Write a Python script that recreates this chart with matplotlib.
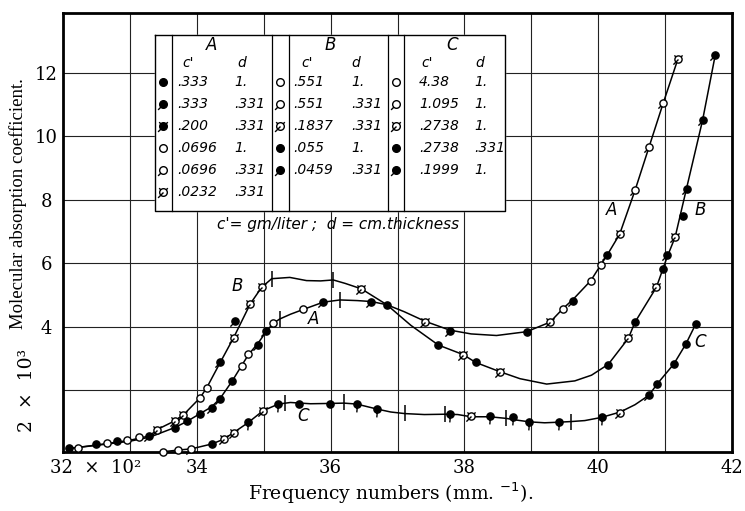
import numpy as np
import matplotlib.pyplot as plt
from matplotlib.path import Path
from matplotlib.transforms import blended_transform_factory, ScaledTranslation

plt.rcParams['font.family'] = 'DejaVu Serif'
plt.rcParams['figure.facecolor'] = 'white'
plt.rcParams['axes.facecolor'] = 'white'

# ---- curve traces (x: 10^2 mm^-1, y: 10^3) ----
a_line_x = [32.09, 32.5, 33.0, 33.3, 33.67, 33.85, 34.05, 34.22, 34.35, 34.53, 34.67, 34.77, 34.92, 35.04,
            35.14, 35.24, 35.4, 35.59, 35.89, 36.14, 36.4, 36.61, 36.84, 37.1, 37.41, 37.78, 38.1, 38.48,
            38.93, 39.28, 39.47, 39.63, 39.89, 40.04, 40.13, 40.32, 40.55, 40.76, 40.97, 41.19]
a_line_y = [0.17, 0.27, 0.40, 0.53, 0.83, 1.02, 1.27, 1.48, 1.75, 2.30, 2.78, 3.12, 3.50, 3.86,
            4.11, 4.25, 4.40, 4.55, 4.78, 4.85, 4.83, 4.80, 4.70, 4.48, 4.18, 3.90, 3.78, 3.73,
            3.85, 4.15, 4.57, 4.88, 5.46, 5.96, 6.25, 6.92, 8.30, 9.67, 11.04, 12.43]

b_line_x = [32.09, 32.5, 33.0, 33.3, 33.40, 33.67, 33.80, 34.05, 34.15, 34.35, 34.55, 34.80, 34.97, 35.12,
            35.39, 35.64, 35.85, 36.04, 36.22, 36.46, 36.65, 36.84, 37.2, 37.61, 37.98, 38.17, 38.53,
            38.83, 39.23, 39.65, 39.9, 40.15, 40.45, 40.55, 40.87, 41.03, 41.15, 41.32, 41.56, 41.75]
b_line_y = [0.17, 0.28, 0.43, 0.57, 0.76, 1.04, 1.23, 1.77, 2.09, 2.88, 3.66, 4.73, 5.25, 5.52,
            5.56, 5.46, 5.45, 5.48, 5.37, 5.20, 4.95, 4.70, 4.05, 3.43, 3.13, 2.88, 2.59,
            2.37, 2.20, 2.30, 2.48, 2.82, 3.64, 4.15, 5.25, 6.20, 6.83, 8.36, 10.51, 12.57]

c_line_x = [33.50, 33.72, 33.92, 34.22, 34.40, 34.55, 34.77, 34.99, 35.22, 35.4, 35.7, 35.99, 36.2, 36.39,
            36.70, 36.9, 37.11, 37.4, 37.71, 37.9, 38.10, 38.38, 38.62, 38.8, 38.97, 39.2, 39.42, 39.60,
            39.8, 40.05, 40.33, 40.55, 40.76, 40.88, 41.13, 41.31, 41.46]
c_line_y = [0.07, 0.12, 0.16, 0.31, 0.46, 0.67, 0.99, 1.36, 1.57, 1.62, 1.58, 1.59, 1.60, 1.57,
            1.41, 1.32, 1.27, 1.24, 1.25, 1.24, 1.17, 1.17, 1.12, 1.06, 1.01, 0.98, 1.00, 1.02,
            1.05, 1.15, 1.32, 1.55, 1.85, 2.20, 2.83, 3.46, 4.10]

# ---- observed points: x, y, symbol kind ----
pt_x = [32.09, 32.23, 32.49, 32.66, 32.80, 32.96, 33.14, 33.29,
        33.67, 33.85, 34.05, 34.22, 34.35, 34.53, 34.67, 34.77, 34.92, 35.04, 35.14, 35.59, 35.89,
        36.61, 36.84, 37.41, 37.78, 38.93, 39.28, 39.47, 39.63, 39.89, 40.04, 40.13, 40.32, 40.55,
        40.76, 40.97, 41.19,
        33.40, 33.67, 33.80, 34.05, 34.15, 34.35, 34.55, 34.57, 34.80, 34.97, 36.46, 37.61, 37.98,
        38.17, 38.53, 40.15, 40.45, 40.55, 40.87, 40.97, 41.03, 41.15, 41.27, 41.32, 41.56, 41.75,
        33.50, 33.72, 33.92, 34.22, 34.40, 34.55, 34.77, 34.99, 35.22, 35.53, 35.99, 36.39, 36.70,
        37.78, 38.10, 38.38, 38.72, 38.97, 39.42, 40.05, 40.33, 40.76, 40.88, 41.13, 41.31, 41.46]
pt_y = [0.20, 0.18, 0.32, 0.33, 0.41, 0.43, 0.52, 0.56,
        0.83, 1.04, 1.27, 1.44, 1.73, 2.30, 2.78, 3.15, 3.44, 3.86, 4.11, 4.55, 4.80,
        4.80, 4.70, 4.15, 3.88, 3.85, 4.15, 4.57, 4.83, 5.46, 5.96, 6.27, 6.92, 8.30,
        9.67, 11.04, 12.43,
        0.76, 1.04, 1.23, 1.77, 2.09, 2.90, 3.66, 4.20, 4.73, 5.25, 5.20, 3.43, 3.13,
        2.88, 2.59, 2.80, 3.64, 4.15, 5.25, 5.83, 6.28, 6.83, 7.51, 8.36, 10.51, 12.57,
        0.07, 0.13, 0.15, 0.31, 0.46, 0.67, 0.99, 1.36, 1.57, 1.57, 1.57, 1.57, 1.41,
        1.27, 1.18, 1.18, 1.15, 1.01, 1.01, 1.15, 1.30, 1.85, 2.20, 2.83, 3.46, 4.10]
pt_kind = ['f', 'o', 'f', 'o', 'f', 'o', 'o', 'fp',
           'f', 'f', 'f', 'fp', 'fp', 'f', 'o', 'o', 'fp', 'fp', 'o', 'o', 'fp',
           'fp', 'f', 'os', 'fp', 'f', 'os', 'o', 'fp', 'o', 'o', 'fp', 'os', 'op',
           'op', 'op', 'os',
           'os', 'os', 'os', 'o', 'o', 'fp', 'os', 'fp', 'os', 'os', 'os', 'f', 'os',
           'f', 'os', 'f', 'os', 'f', 'os', 'f', 'fp', 'os', 'f', 'fp', 'fp', 'fp',
           'o', 'o', 'op', 'f', 'os', 'os', 'fd', 'os', 'fd', 'f', 'f', 'fd', 'fd',
           'fd', 'os', 'fd', 'fd', 'fd', 'fd', 'fd', 'os', 'fp', 'f', 'f', 'f', 'f']

# short vertical bars drawn across the curves
bar_x = [35.24, 36.14, 35.12, 36.04, 35.32, 36.20, 37.11, 37.71, 38.62, 39.60]
bar_y = [4.25, 4.85, 5.52, 5.48, 1.60, 1.62, 1.29, 1.25, 1.12, 1.02]

# curve letters
lab_text = ['A', 'B', 'C', 'A', 'B', 'C']
lab_x = [35.74, 34.60, 35.59, 40.20, 41.52, 41.52]
lab_y = [4.25, 5.30, 1.20, 7.67, 7.67, 3.51]

# inset table
tab_head = ['A', 'B', 'C']
tab_c = [['.333', '.333', '.200', '.0696', '.0696', '.0232'],
         ['.551', '.551', '.1837', '.055', '.0459'],
         ['4.38', '1.095', '.2738', '.2738', '.1999']]
tab_d = [['1.', '.331', '.331', '1.', '.331', '.331'],
         ['1.', '.331', '.331', '1.', '.331'],
         ['1.', '1.', '1.', '.331', '1.']]
tab_kind = [['f', 'fp', 'fs', 'o', 'op', 'os'],
            ['o', 'op', 'os', 'f', 'fp'],
            ['o', 'op', 'os', 'f', 'fp']]


def symbol(kind):
    parts = [Path.unit_circle()]
    ang = []
    if kind[1:] == 'p':
        ang = [(225, 1.0, 2.0)]
    elif kind[1:] == 's':
        ang = [(225, 0.0, 2.0), (45, 1.0, 1.6), (135, 1.0, 1.6)]
    elif kind[1:] == 'd':
        ang = [(265, 1.0, 2.2)]
    for a, r0, r1 in ang:
        t = np.deg2rad(a)
        parts.append(Path([(r0 * np.cos(t), r0 * np.sin(t)), (r1 * np.cos(t), r1 * np.sin(t))],
                          [Path.MOVETO, Path.LINETO]))
    p = Path.make_compound_path(*parts)
    ext = np.abs(p.vertices).max()
    return p, ext


def draw_pts(ax, xs, ys, kinds, diam):
    for k in sorted(set(kinds)):
        sel = [i for i, kk in enumerate(kinds) if kk == k]
        p, ext = symbol(k)
        ax.plot([xs[i] for i in sel], [ys[i] for i in sel], ls='none', marker=p,
                ms=diam * ext, mfc='black' if k[0] == 'f' else 'white', mec='black',
                mew=1.0, zorder=5, clip_on=False)


fig = plt.figure(figsize=(7.45, 5.11), dpi=100)
ax = fig.add_axes([63 / 745, 59 / 511, 669 / 745, 439 / 511])

ax.plot(a_line_x, a_line_y, color='black', lw=1.1, zorder=3)
ax.plot(b_line_x, b_line_y, color='black', lw=1.1, zorder=3)
ax.plot(c_line_x, c_line_y, color='black', lw=1.1, zorder=3)
draw_pts(ax, pt_x, pt_y, pt_kind, 5.2)
ax.plot(bar_x, bar_y, ls='none', marker='|', ms=11, mew=1.1, color='black', zorder=4)

for t, x, y in zip(lab_text, lab_x, lab_y):
    ax.text(x, y, t, fontsize=12, style='italic', family='DejaVu Sans', ha='center', va='center')

ax.set_xlim(32, 42)
ax.set_ylim(0.06, 13.89)
ax.set_xticks([32, 33, 34, 35, 36, 37, 38, 39, 40, 41, 42])
ax.set_xticklabels(['32  ×  10²', '', '34', '', '36', '', '38', '', '40', '', '42'])
ax.set_yticks([2, 4, 6, 8, 10, 12])
ax.set_yticklabels(['', '4', '6', '8', '10', '12'])
ax.tick_params(length=0, labelsize=13)
ax.tick_params(axis='y', pad=12)
ax.tick_params(axis='x', pad=5)
for lbl in ax.get_yticklabels():
    lbl.set_horizontalalignment('center')
first = ax.get_xticklabels()[0]
first.set_horizontalalignment('left')
first.set_transform(first.get_transform() + ScaledTranslation(-0.13, 0, fig.dpi_scale_trans))
ax.grid(True, color='#222222', lw=0.8)
ax.set_axisbelow(True)
for s in ax.spines.values():
    s.set_linewidth(2)

tr = blended_transform_factory(ax.transAxes, ax.transData)
ax.text(-0.054, 2, '2  ×  10³', transform=tr, rotation=90, ha='center', va='center', fontsize=13.5)
ax.set_ylabel('Molecular absorption coefficient.', fontsize=13.5, family='Liberation Serif')
ax.yaxis.set_label_coords(-0.054, 0.567)
ax.set_xlabel('Frequency numbers (mm. $^{-1}$).', fontsize=13.5)
ax.xaxis.label.set_verticalalignment('center')
ax.xaxis.set_label_coords(0.49, -0.095)


# ---- inset table (pixel layout inside the figure) ----
def fx(px):
    return (px - 63) / 669


def fy(py):
    return (452 - py) / 439


T = ax.transAxes
box_l, box_r, box_t, box_b = 155, 505, 35, 211
ax.fill([fx(box_l), fx(box_r), fx(box_r), fx(box_l)], [fy(box_t), fy(box_t), fy(box_b), fy(box_b)],
        color='white', transform=T, zorder=6)
ax.plot([fx(box_l), fx(box_r), fx(box_r), fx(box_l), fx(box_l)],
        [fy(box_t), fy(box_t), fy(box_b), fy(box_b), fy(box_t)], color='black', lw=1.0, transform=T, zorder=7)
for xl in [172, 272, 289, 388, 404]:
    ax.plot([fx(xl), fx(xl)], [fy(box_t), fy(box_b)], color='black', lw=0.9, transform=T, zorder=7)

mark_px = [163, 280, 396]
head_px = [212, 330, 452]
clab_px = [188, 307, 427]
dlab_px = [242, 356, 480]
cval_px = [177, 293, 419]
dval_px = [234, 351, 474]
row_y = [82, 104, 126, 148, 170, 192]
tfont = dict(fontsize=10, style='italic', family='DejaVu Sans', transform=T, zorder=8, va='center')
for g in range(3):
    ax.text(fx(head_px[g]), fy(45), tab_head[g], ha='center', **{**tfont, 'fontsize': 12})
    ax.text(fx(clab_px[g]), fy(63), "c'", ha='center', **tfont)
    ax.text(fx(dlab_px[g]), fy(63), 'd', ha='center', **tfont)
    for i in range(len(tab_c[g])):
        ax.text(fx(cval_px[g]), fy(row_y[i]), tab_c[g][i], ha='left', **tfont)
        ax.text(fx(dval_px[g]), fy(row_y[i]), tab_d[g][i], ha='left', **tfont)
        k = tab_kind[g][i]
        p, ext = symbol(k)
        ax.plot([fx(mark_px[g])], [fy(row_y[i])], ls='none', marker=p, ms=5.5 * ext, transform=T, zorder=9,
                mfc='black' if k[0] == 'f' else 'white', mec='black', mew=1.0)

ax.text(fx(338), fy(224), "c'= gm/liter ;  d = cm.thickness", ha='center', **{**tfont, 'fontsize': 11})

fig.savefig('out.png', dpi=100)
